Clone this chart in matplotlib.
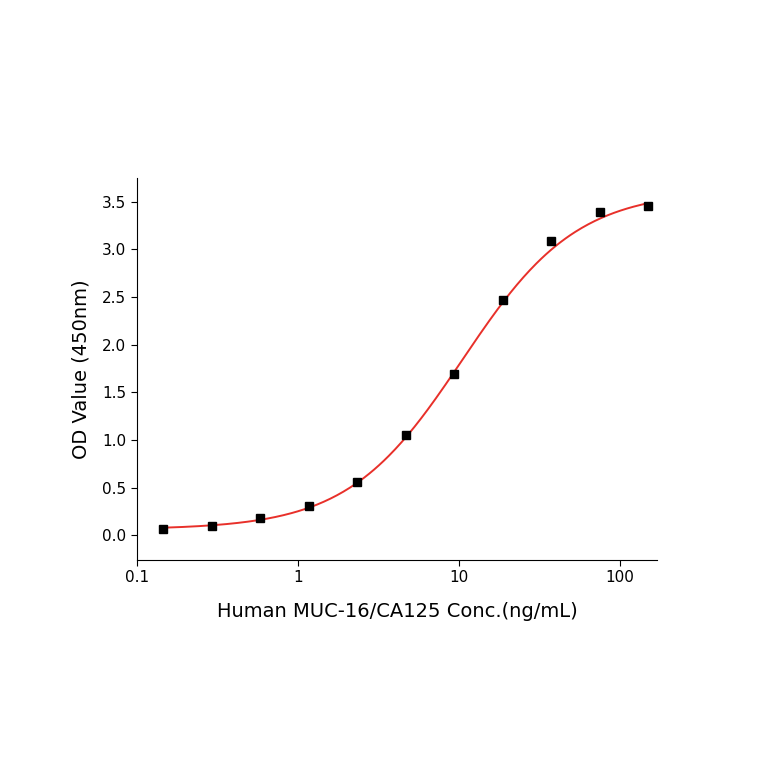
import matplotlib.pyplot as plt
import numpy as np
from matplotlib.ticker import FixedLocator, FixedFormatter, NullLocator

# measured points
conc = [0.146, 0.293, 0.586, 1.17, 2.34, 4.69, 9.38, 18.75, 37.5, 75, 150]
od = [0.07, 0.10, 0.18, 0.31, 0.56, 1.05, 1.69, 2.47, 3.09, 3.39, 3.46]

# 4PL fit parameters
bottom, top, ec50, hill = 0.06, 3.62, 10.5, 1.22

fig = plt.figure(figsize=(7.64, 7.64), dpi=100)
ax = fig.add_axes([0.179, 0.267, 0.681, 0.5])

xs = np.logspace(np.log10(conc[0]), np.log10(conc[-1]), 300)
fit = top - (top - bottom) / (1 + (xs / ec50) ** hill)
ax.plot(xs, fit, color='#e8302a', lw=1.4)
ax.plot(conc, od, 's', color='black', ms=5.5)

ax.set_xscale('log')
ax.set_xlim(0.1, 170)
ax.set_ylim(-0.26, 3.75)
ax.xaxis.set_major_locator(FixedLocator([0.1, 1, 10, 100]))
ax.xaxis.set_major_formatter(FixedFormatter(['0.1', '1', '10', '100']))
ax.xaxis.set_minor_locator(NullLocator())
ax.set_yticks(np.arange(0, 3.51, 0.5))
ax.set_yticklabels(['%.1f' % v for v in np.arange(0, 3.51, 0.5)])
ax.tick_params(labelsize=11, length=4)

for s in ['top', 'right']:
    ax.spines[s].set_visible(False)

ax.set_xlabel('Human MUC-16/CA125 Conc.(ng/mL)', fontsize=14, labelpad=12)
ax.set_ylabel('OD Value (450nm)', fontsize=14, labelpad=8)

fig.savefig('out.png', dpi=100)
